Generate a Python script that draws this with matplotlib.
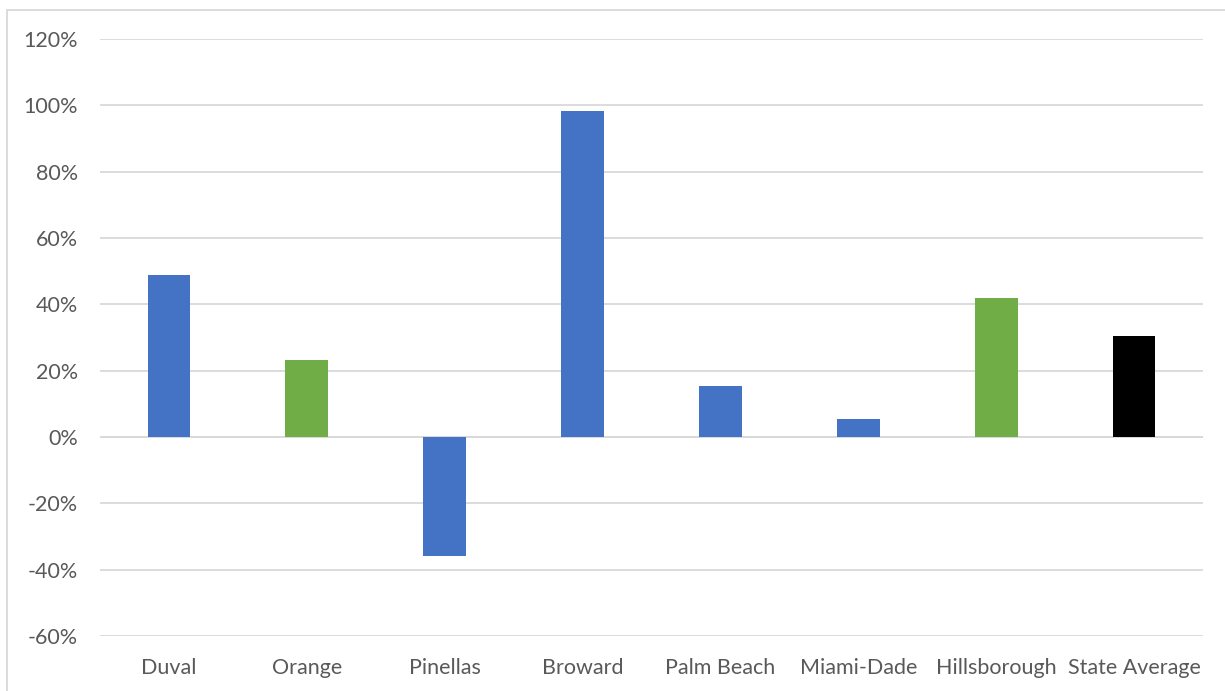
import matplotlib.pyplot as plt
from matplotlib.patches import Rectangle
from matplotlib.ticker import FuncFormatter

counties = ["Duval", "Orange", "Pinellas", "Broward", "Palm Beach",
            "Miami-Dade", "Hillsborough", "State Average"]
change_pct = [48.8, 23.3, -35.9, 98.4, 15.3, 5.4, 41.9, 30.5]
bar_colors = ["#4472C4", "#70AD47", "#4472C4", "#4472C4", "#4472C4",
              "#4472C4", "#70AD47", "#000000"]

plt.rcParams['font.family'] = ['Lato', 'DejaVu Sans']

fig = plt.figure(figsize=(12.25, 6.91), dpi=100)
ax = fig.add_axes([100 / 1225, 1 - 636 / 691, 1103 / 1225, 597 / 691])

# chart frame (left and top edges show)
fig.patches.append(Rectangle((7 / 1225, -0.1), 1.2, 1 - 9.5 / 691 + 0.1,
                             transform=fig.transFigure, fill=False,
                             edgecolor="#d9d9d9", linewidth=1.3))

x = range(len(counties))
ax.bar(x, change_pct, width=0.31, color=bar_colors, zorder=3)

ax.set_ylim(-60, 120)
ax.set_xlim(-0.5, len(counties) - 0.5)
ax.set_yticks(range(-60, 121, 20))
ax.yaxis.set_major_formatter(FuncFormatter(lambda v, p: "{0:.0f}%".format(v)))
ax.grid(axis="y", color="#d9d9d9", linewidth=1.3, zorder=0)
ax.axhline(0, color="#d9d9d9", linewidth=1.3, zorder=1)

ax.set_xticks(list(x))
ax.set_xticklabels(counties)
ax.tick_params(axis="both", length=0, labelsize=15.5, labelcolor="#595959")
ax.tick_params(axis="x", pad=15.5)
ax.tick_params(axis="y", pad=16)
for s in ax.spines.values():
    s.set_visible(False)

plt.savefig("out.png", dpi=100)
